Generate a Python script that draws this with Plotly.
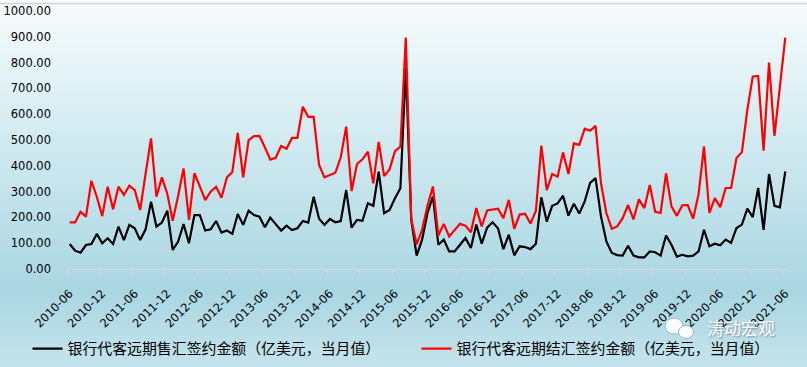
import plotly.graph_objects as go
import pandas as pd

# ---------------- data ----------------
months = [p.strftime("%Y-%m") for p in pd.period_range("2010-06", "2021-06", freq="M")]

# 银行代客远期售汇签约金额（亿美元，当月值） – black
fwd_sell = [
    97, 71, 63, 93, 97, 136, 100, 119, 97, 164,
    112, 171, 158, 112, 154, 261, 164, 180, 226, 74,
    106, 174, 100, 209, 209, 149, 154, 186, 141, 149,
    136, 213, 171, 226, 209, 203, 162, 199, 174, 149,
    168, 151, 158, 186, 180, 280, 195, 171, 194, 181,
    186, 306, 160, 190, 187, 255, 245, 377, 216, 229,
    274, 313, 780, 191, 52, 114, 217, 281, 94, 114,
    68, 68, 94, 120, 81, 172, 98, 160, 181, 158,
    77, 133, 53, 88, 85, 77, 98, 278, 184, 245,
    254, 284, 207, 253, 215, 262, 334, 352, 204, 107,
    62, 54, 52, 90, 52, 45, 45, 68, 65, 52,
    130, 94, 48, 55, 49, 52, 68, 152, 88, 98,
    92, 114, 101, 159, 172, 234, 201, 314, 152, 368,
    245, 239, 378,
]

# 银行代客远期结汇签约金额（亿美元，当月值） – red
fwd_buy = [
    181, 181, 222, 203, 342, 280, 205, 319, 232, 319,
    287, 323, 306, 229, 370, 506, 280, 355, 292, 187,
    283, 390, 190, 371, 320, 267, 300, 319, 276, 355,
    376, 528, 355, 500, 515, 516, 472, 424, 431, 477,
    466, 508, 508, 629, 590, 590, 403, 355, 364, 373,
    433, 552, 302, 407, 425, 455, 332, 493, 360, 386,
    457, 474, 897, 195, 95, 152, 245, 320, 130, 175,
    126, 150, 175, 168, 142, 236, 165, 227, 231, 234,
    197, 268, 156, 211, 214, 176, 226, 478, 306, 368,
    358, 452, 368, 487, 481, 544, 536, 555, 333, 217,
    156, 165, 197, 248, 192, 270, 236, 326, 222, 217,
    371, 243, 206, 247, 248, 195, 289, 475, 217, 275,
    240, 314, 314, 430, 453, 617, 746, 748, 459, 800,
    516, 700, 897,
]

series_names = [
    "银行代客远期售汇签约金额（亿美元，当月值）",
    "银行代客远期结汇签约金额（亿美元，当月值）",
]
tick_step = 6
tick_positions = list(range(0, len(months), tick_step))
tick_labels = [months[i] for i in tick_positions]
y_ticks = list(range(0, 1001, 100))

# ---------------- figure geometry ----------------
W, H = 807, 367
ML, MR, MT, MB = 67, 19, 11, 98
PW, PH = W - ML - MR, H - MT - MB


def px_x(px):
    return (px - ML) / PW


def px_y(py):
    return (H - MB - py) / PH


x = list(range(len(months)))

fig = go.Figure()
fig.add_trace(go.Scatter(x=x, y=fwd_sell, mode="lines", name=series_names[0],
                         line=dict(color="#000000", width=2.2), legend="legend"))
fig.add_trace(go.Scatter(x=x, y=fwd_buy, mode="lines", name=series_names[1],
                         line=dict(color="#ff0000", width=2.2), legend="legend2"))

# ---------------- background gradient ----------------
stops = [(0, (248, 252, 253)), (150, (206, 233, 240)), (290, (170, 214, 226)), (367, (196, 228, 236))]


def grad(py):
    for (a, ca), (b, cb) in zip(stops[:-1], stops[1:]):
        if a <= py <= b:
            t = (py - a) / (b - a)
            return tuple(round(ca[k] + (cb[k] - ca[k]) * t) for k in range(3))
    return stops[-1][1]


shapes = []
band = 4
for y0 in range(0, H, band):
    y1 = min(y0 + band, H)
    c = grad((y0 + y1) / 2)
    shapes.append(dict(type="rect", xref="paper", yref="paper",
                       x0=px_x(0), x1=px_x(W), y0=px_y(y1 + 0.5), y1=px_y(y0),
                       fillcolor="rgb(%d,%d,%d)" % c, line=dict(width=0), layer="below"))
# top border line
shapes.append(dict(type="line", xref="paper", yref="paper", x0=px_x(0), x1=px_x(W),
                   y0=px_y(3.5), y1=px_y(3.5), line=dict(color="#d4d4d4", width=1.5), layer="below"))
# watermark logo (simple bubbles)
for (cx, cy, rx, ry) in [(674, 326, 9, 8), (686, 332, 7.5, 6.5)]:
    shapes.append(dict(type="circle", xref="paper", yref="paper",
                       x0=px_x(cx - rx), x1=px_x(cx + rx), y0=px_y(cy + ry), y1=px_y(cy - ry),
                       fillcolor="rgba(255,255,255,0.92)", line=dict(color="#9fb5bd", width=1)))

legend_common = dict(orientation="h", xanchor="left", yanchor="middle",
                     font=dict(family="Noto Sans CJK SC", size=14.9, color="#000000"),
                     bgcolor="rgba(0,0,0,0)", itemwidth=30)

fig.update_layout(
    width=W, height=H,
    margin=dict(l=ML, r=MR, t=MT, b=MB, pad=0, autoexpand=False),
    paper_bgcolor="rgb(200,229,236)",
    plot_bgcolor="rgba(0,0,0,0)",
    shapes=shapes,
    showlegend=True,
    legend=dict(x=px_x(27.5), y=px_y(349), **legend_common),
    legend2=dict(x=px_x(416.5), y=px_y(349), **legend_common),
    font=dict(family="DejaVu Sans", color="#000000"),
    annotations=[dict(text="涛动宏观", xref="paper", yref="paper", x=px_x(741), y=px_y(327),
                      xanchor="center", yanchor="middle", showarrow=False,
                      font=dict(family="Noto Sans CJK SC", size=17, color="#ffffff",
                                shadow="1px 1px 2px #6f8e99"))],
)

fig.update_xaxes(
    range=[-0.5, len(months) - 0.5],
    tickmode="array", tickvals=tick_positions, ticktext=tick_labels,
    tickangle=-45, ticks="", tickfont=dict(family="DejaVu Sans", size=11.5, color="#000000"),
    ticklabelstandoff=12, automargin=False,
    showline=True, linecolor="#d9d9d9", linewidth=1.2,
    showgrid=False, zeroline=False,
    minor=dict(tickmode="array", tickvals=[i - 0.5 for i in tick_positions],
               ticks="outside", ticklen=5, tickwidth=1, tickcolor="#d9d9d9", showgrid=False),
)
fig.update_yaxes(
    range=[0, 1000], tickmode="array", tickvals=y_ticks,
    ticktext=["%.2f" % v for v in y_ticks],
    tickfont=dict(family="DejaVu Sans", size=11.5, color="#000000"),
    ticks="", ticklabelstandoff=15, automargin=False,
    showline=False, showgrid=False, zeroline=False,
)

fig.write_html("out.html", config={"displayModeBar": False},
               post_script="document.body.style.margin='0px';")
